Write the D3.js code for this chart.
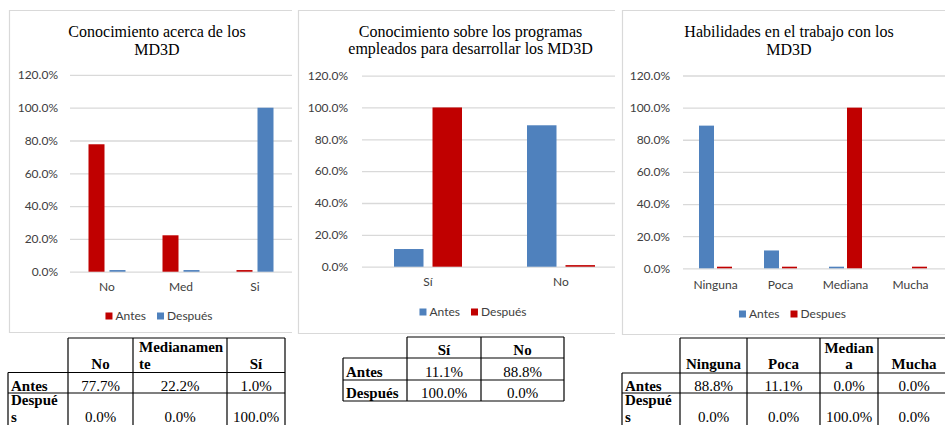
<!DOCTYPE html>
<html>
<head>
<meta charset="utf-8">
<script src="https://cdn.jsdelivr.net/npm/d3@7"></script>
<style>
html,body{margin:0;padding:0;background:#fff;}
svg{display:block;}
.axis text{font-family:Lato,"Open Sans",sans-serif;font-size:12px;fill:#404040;}
.leg text{font-family:Lato,"Open Sans",sans-serif;font-size:12px;fill:#404040;}
.title{font-family:"Liberation Serif","Times New Roman",serif;font-size:16px;fill:#000;}
.tbl{font-family:"Liberation Serif","Times New Roman",serif;font-size:15px;fill:#000;}
.tbl.b{font-weight:bold;}
</style>
</head>
<body>
<svg id="c" width="945" height="425"></svg>
<script>
// ---------- DATA ----------
const cats1 = ["No", "Med", "Si"];
const series1 = ["Antes", "Después"];
const antes1 = [77.7, 22.2, 1.0];
const despues1 = [1.0, 1.0, 100.0];
const title1 = ["Conocimiento acerca de los", "MD3D"];

const cats2 = ["Sí", "No"];
const series2 = ["Antes", "Después"];
const antes2 = [11.1, 88.8];
const despues2 = [100.0, 1.0];
const title2 = ["Conocimiento sobre los programas", "empleados para desarrollar los MD3D"];

const cats3 = ["Ninguna", "Poca", "Mediana", "Mucha"];
const series3 = ["Antes", "Despues"];
const antes3 = [88.8, 11.1, 1.0, 0.0];
const despues3 = [1.0, 1.0, 100.0, 1.0];
const title3 = ["Habilidades en el trabajo con los", "MD3D"];

const yTicks = [0, 20, 40, 60, 80, 100, 120];
const yTickLabels = ["0.0%", "20.0%", "40.0%", "60.0%", "80.0%", "100.0%", "120.0%"];

// tables
const tbl1Head = [["No"], ["Medianamen", "te"], ["Sí"]];
const tbl1RowLabels = [["Antes"], ["Despué", "s"]];
const tbl1Antes = ["77.7%", "22.2%", "1.0%"];
const tbl1Despues = ["0.0%", "0.0%", "100.0%"];

const tbl2Head = [["Sí"], ["No"]];
const tbl2RowLabels = [["Antes"], ["Después"]];
const tbl2Antes = ["11.1%", "88.8%"];
const tbl2Despues = ["100.0%", "0.0%"];

const tbl3Head = [["Ninguna"], ["Poca"], ["Median", "a"], ["Mucha"]];
const tbl3RowLabels = [["Antes"], ["Despué", "s"]];
const tbl3Antes = ["88.8%", "11.1%", "0.0%", "0.0%"];
const tbl3Despues = ["0.0%", "0.0%", "100.0%", "0.0%"];

const RED = "#c00000", BLUE = "#4f81bd", GRID = "#d9d9d9";

const svg = d3.select("#c");

function drawChart(cfg) {
  const g = svg.append("g");
  const pb = cfg.panel;
  g.append("path")
    .attr("d", `M${pb.x1},${pb.y0 + 0.5}H${pb.x0 + 0.5}V${pb.y1 + 0.5}H${pb.x1}`)
    .attr("fill", "none").attr("stroke", GRID).attr("stroke-width", 1.2);

  const y = d3.scaleLinear().domain([0, 120]).range([cfg.y0, cfg.y120]);
  const x0 = d3.scaleBand().domain(cfg.cats).range(cfg.xr).padding(0);
  const x1 = d3.scaleBand().domain(d3.range(cfg.series.length))
    .range([0, cfg.groupW]).paddingInner(cfg.innerPad).paddingOuter(0);

  const ya = g.append("g").attr("class", "axis")
    .attr("transform", `translate(${cfg.gx0},0)`)
    .call(d3.axisLeft(y).tickValues(yTicks)
      .tickFormat((d, i) => yTickLabels[i])
      .tickSize(-(cfg.gx1 - cfg.gx0)).tickPadding(cfg.tickPad));
  ya.select(".domain").remove();
  ya.selectAll(".tick line").attr("stroke", GRID).attr("stroke-width", 1.3);

  const vals = cfg.values;
  cfg.series.forEach((s, si) => {
    g.append("g").selectAll("rect").data(cfg.cats).join("rect")
      .attr("x", (c) => x0(c) + x0.bandwidth() / 2 - cfg.groupW / 2 + x1(si))
      .attr("width", x1.bandwidth())
      .attr("y", (c, i) => y(vals[si][i]))
      .attr("height", (c, i) => y(0) - y(vals[si][i]))
      .attr("fill", cfg.colors[si]);
  });

  const xa = g.append("g").attr("class", "axis")
    .attr("transform", `translate(0,${cfg.y0})`)
    .call(d3.axisBottom(x0).tickSize(0).tickPadding(cfg.xPad));
  xa.select(".domain").remove();

  const t = g.append("text").attr("class", "title").attr("text-anchor", "middle");
  cfg.title.forEach((line, i) => {
    t.append("tspan").attr("x", cfg.titleX).attr("y", cfg.titleY[i]).text(line);
  });

  const leg = g.append("g").attr("class", "leg");
  let cx = 0;
  cfg.series.forEach((s, si) => {
    const it = leg.append("g");
    it.append("rect").attr("x", 0).attr("y", -3.5).attr("width", 7).attr("height", 7)
      .attr("fill", cfg.colors[si]);
    const tx = it.append("text").attr("x", 10).attr("y", 4.2).text(s);
    const w = 10 + tx.node().getComputedTextLength();
    it.attr("transform", `translate(${cx},0)`);
    cx += w + 11;
  });
  const totalW = cx - 11;
  leg.attr("transform", `translate(${cfg.legCX - totalW / 2},${cfg.legY})`);
}

drawChart({
  panel: {x0: 9, x1: 292, y0: 10, y1: 332},
  cats: cats1, series: series1, values: [antes1, despues1], colors: [RED, BLUE],
  title: title1, titleX: 157, titleY: [37, 55],
  y0: 271.7, y120: 74.9, gx0: 70, gx1: 292, xr: [70, 292], tickPad: 12,
  groupW: 37, innerPad: 0.238, xPad: 11,
  legCX: 159, legY: 316
});
drawChart({
  panel: {x0: 298, x1: 615, y0: 10, y1: 333},
  cats: cats2, series: series2, values: [antes2, despues2], colors: [BLUE, RED],
  title: title2, titleX: 470.5, titleY: [37, 54],
  y0: 266.7, y120: 75.6, gx0: 362, gx1: 615, xr: [361.5, 627.5], tickPad: 14,
  groupW: 68, innerPad: 0.234, xPad: 11,
  legCX: 473, legY: 312
});
drawChart({
  panel: {x0: 622, x1: 950, y0: 10, y1: 334},
  cats: cats3, series: series3, values: [antes3, despues3], colors: [BLUE, RED],
  title: title3, titleX: 789, titleY: [37, 54.5],
  y0: 268.3, y120: 75.5, gx0: 683, gx1: 950, xr: [683, 943], tickPad: 13,
  groupW: 33, innerPad: 0.167, xPad: 12,
  legCX: 792.5, legY: 314
});

// ---------- TABLES ----------
function drawTable(tb) {
  const g = svg.append("g");
  const cols = tb.cols;
  const rows = tb.rows;
  const line = (x1, y1, x2, y2) => g.append("line")
    .attr("x1", x1).attr("y1", y1).attr("x2", x2).attr("y2", y2)
    .attr("stroke", "#000").attr("stroke-width", 1.2);
  line(cols[0], rows[1], cols[0], rows[3]);
  for (let i = 1; i < cols.length; i++) line(cols[i], rows[0], cols[i], rows[3]);
  line(cols[1], rows[0], cols[cols.length - 1], rows[0]);
  for (let j = 1; j < rows.length; j++) line(cols[0], rows[j], cols[cols.length - 1], rows[j]);

  tb.head.forEach((lines, i) => {
    const left = cols[i + 1], right = cols[i + 2];
    const align = lines.length > 1 ? tb.multiAlign : "middle";
    const tx = align === "start" ? left + 6 : (left + right) / 2;
    lines.forEach((ln, k) => {
      g.append("text").attr("class", "tbl b").attr("text-anchor", align)
        .attr("x", tx).attr("y", tb.headBase - (lines.length - 1 - k) * tb.lh).text(ln);
    });
  });
  tb.rowLabels.forEach((lines, r) => {
    lines.forEach((ln, k) => {
      g.append("text").attr("class", "tbl b").attr("x", cols[0] + 3)
        .attr("y", tb.rowBase[r][k]).text(ln);
    });
  });
  tb.values.forEach((vals, r) => {
    vals.forEach((v, i) => {
      g.append("text").attr("class", "tbl").attr("text-anchor", "middle")
        .attr("x", (cols[i + 1] + cols[i + 2]) / 2).attr("y", tb.valBase[r]).text(v);
    });
  });
}

drawTable({
  cols: [8, 68, 133, 227, 285], rows: [338, 372.5, 393, 445],
  head: tbl1Head, multiAlign: "start", headBase: 368.5, lh: 16.5,
  rowLabels: tbl1RowLabels, rowBase: [[390.5], [405, 421.7]],
  values: [tbl1Antes, tbl1Despues], valBase: [390.5, 421.7]
});
drawTable({
  cols: [343, 407, 481, 564], rows: [337, 358, 380, 401],
  head: tbl2Head, multiAlign: "middle", headBase: 355, lh: 16.5,
  rowLabels: tbl2RowLabels, rowBase: [[376.5], [397.5]],
  values: [tbl2Antes, tbl2Despues], valBase: [376.5, 397.5]
});
drawTable({
  cols: [622, 680, 747, 820, 878, 950], rows: [338, 373, 393, 445],
  head: tbl3Head, multiAlign: "middle", headBase: 369, lh: 16.5,
  rowLabels: tbl3RowLabels, rowBase: [[390.5], [405, 421.7]],
  values: [tbl3Antes, tbl3Despues], valBase: [390.5, 421.7]
});
</script>
</body>
</html>
